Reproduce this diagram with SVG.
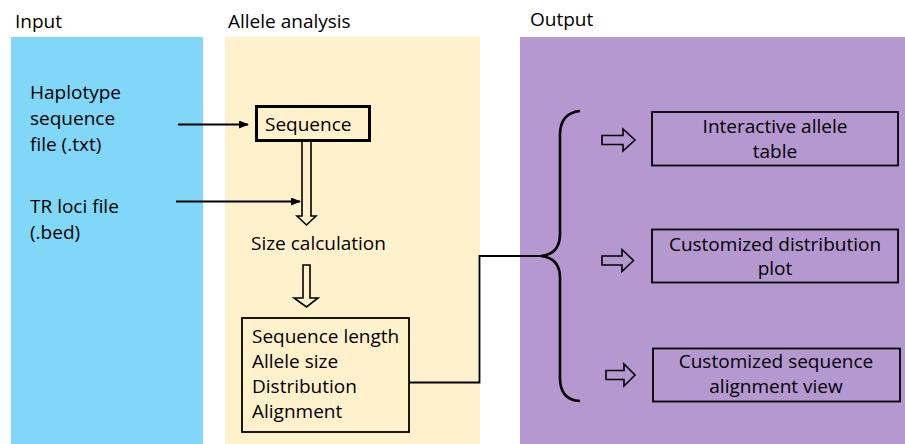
<svg xmlns="http://www.w3.org/2000/svg" width="905" height="444" viewBox="0 0 905 444">
<style>
text{font-family:"Open Sans","Liberation Sans",sans-serif;font-size:19px;fill:#000}
.c{text-anchor:middle}
.box{fill:none;stroke:#000;stroke-width:1.8}
.hollow{fill:none;stroke:#000;stroke-width:1.6;stroke-linejoin:miter}
.line{fill:none;stroke:#000;stroke-width:1.8}
</style>
<defs>
<marker id="ah" markerWidth="10" markerHeight="8" refX="9" refY="4" orient="auto" markerUnits="userSpaceOnUse">
<path d="M0,0 L10,4 L0,8 Z" fill="#000"/>
</marker>
</defs>
<g id="panels">
<rect x="11" y="37" width="192" height="407" fill="#80D7F7"/>
<rect x="225" y="37" width="255" height="407" fill="#FFF1CC"/>
<rect x="520" y="37" width="385" height="407" fill="#B598D0"/>
<text x="15" y="28">Input</text>
<text x="228" y="28">Allele analysis</text>
<text x="530" y="26">Output</text>
</g>
<g id="input-haplotype">
<text x="30" y="99">Haplotype</text>
<text x="30" y="125">sequence</text>
<text x="30" y="151">file (.txt)</text>
</g>
<g id="input-trloci">
<text x="30" y="213">TR loci file</text>
<text x="30" y="239">(.bed)</text>
</g>
<g id="sequence">
<rect x="256.5" y="106.5" width="113" height="34" fill="none" stroke="#000" stroke-width="3"/>
<text x="265" y="131">Sequence</text>
</g>
<g id="size-calculation">
<text x="251" y="250">Size calculation</text>
</g>
<g id="results">
<rect x="242" y="318" width="167" height="114" class="box"/>
<text x="252" y="343">Sequence length</text>
<text x="252" y="368">Allele size</text>
<text x="252" y="393">Distribution</text>
<text x="252" y="418">Alignment</text>
</g>
<g id="out-table">
<rect x="652" y="112" width="246" height="53.5" class="box"/>
<text x="775" y="133" class="c">Interactive allele</text>
<text x="775" y="158" class="c">table</text>
</g>
<g id="out-distribution">
<rect x="652" y="229.5" width="246" height="53" class="box"/>
<text x="775" y="251" class="c">Customized distribution</text>
<text x="775" y="275" class="c">plot</text>
</g>
<g id="out-alignment">
<rect x="653" y="348.5" width="247" height="53" class="box"/>
<text x="776" y="368" class="c">Customized sequence</text>
<text x="776" y="393" class="c">alignment view</text>
</g>
<g id="connectors">
<line x1="178" y1="124.5" x2="248" y2="124.5" class="line" marker-end="url(#ah)"/>
<line x1="176" y1="201.5" x2="300" y2="201.5" class="line" marker-end="url(#ah)"/>
<path d="M302,141 V216 H297 L306.5,225 L316,216 H311 V141" class="hollow"/>
<path d="M303,265 V298 H294 L306.5,307 L318,298 H310 V265 Z" class="hollow"/>
<path d="M409,382.5 H479.5 V256 H541" class="line" stroke-width="2.2"/>
<path d="M580,111 Q560,113 560,135 V234 Q560,254 541,256 Q560,258 560,278 V378 Q560,400 580,401" fill="none" stroke="#000" stroke-width="2.6"/>
<path d="M602,135.5 H623 V129 L635,140 L623,151 V144.5 H602 Z" class="hollow"/>
<path d="M602,256 H622 V249.5 L633.5,260.5 L622,271.5 V265 H602 Z" class="hollow"/>
<path d="M606,370.5 H624 V364 L635,375 L624,386 V379.5 H606 Z" class="hollow"/>
</g>
</svg>
